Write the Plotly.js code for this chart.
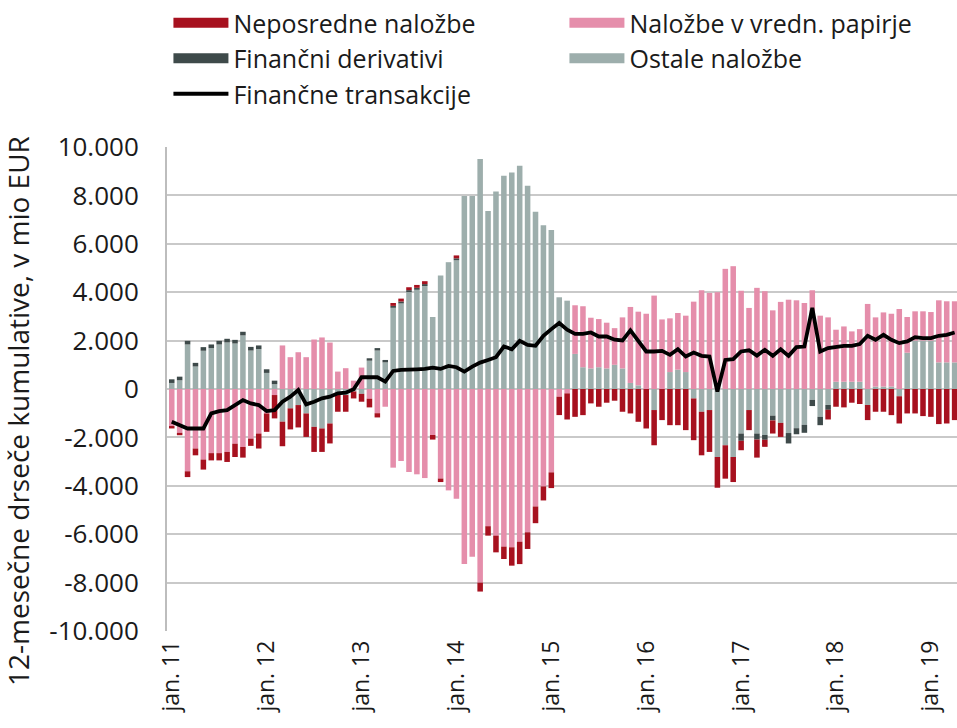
<!DOCTYPE html>
<html>
<head>
<meta charset="utf-8">
<script src="https://cdn.plot.ly/plotly-3.0.1.min.js"></script>
<style>
  html, body { margin: 0; padding: 0; background: #ffffff; }
  #chart { width: 957px; height: 728px; }
</style>
</head>
<body>
<div id="chart"></div>
<script>
// Months: jan. 2011 .. apr. 2019
var months = [
  "2011-01","2011-02","2011-03","2011-04","2011-05","2011-06","2011-07","2011-08","2011-09","2011-10","2011-11","2011-12",
  "2012-01","2012-02","2012-03","2012-04","2012-05","2012-06","2012-07","2012-08","2012-09","2012-10","2012-11","2012-12",
  "2013-01","2013-02","2013-03","2013-04","2013-05","2013-06","2013-07","2013-08","2013-09","2013-10","2013-11","2013-12",
  "2014-01","2014-02","2014-03","2014-04","2014-05","2014-06","2014-07","2014-08","2014-09","2014-10","2014-11","2014-12",
  "2015-01","2015-02","2015-03","2015-04","2015-05","2015-06","2015-07","2015-08","2015-09","2015-10","2015-11","2015-12",
  "2016-01","2016-02","2016-03","2016-04","2016-05","2016-06","2016-07","2016-08","2016-09","2016-10","2016-11","2016-12",
  "2017-01","2017-02","2017-03","2017-04","2017-05","2017-06","2017-07","2017-08","2017-09","2017-10","2017-11","2017-12",
  "2018-01","2018-02","2018-03","2018-04","2018-05","2018-06","2018-07","2018-08","2018-09","2018-10","2018-11","2018-12",
  "2019-01","2019-02","2019-03","2019-04"
];

// Tick labels (x)
var xTickVals = ["2011-01","2012-01","2013-01","2014-01","2015-01","2016-01","2017-01","2018-01","2019-01"];
var xTickText = ["jan. 11","jan. 12","jan. 13","jan. 14","jan. 15","jan. 16","jan. 17","jan. 18","jan. 19"];

// Tick labels (y)
var yTickVals = [10000, 8000, 6000, 4000, 2000, 0, -2000, -4000, -6000, -8000, -10000];
var yTickText = ["10.000","8.000","6.000","4.000","2.000","0","-2.000","-4.000","-6.000","-8.000","-10.000"];

// Neposredne naložbe (mio EUR)
var neposredne = [
  -100,-100,-240,-280,-415,-300,-300,-415,-550,-440,-300,-620,
  -760,-965,-1015,-870,-925,-970,-1035,-970,-825,-760,-690,-290,
  -325,-360,-175,0,120,120,120,120,120,-190,-145,0,
  120,0,0,-370,-390,-690,-510,-760,-925,-690,-690,-580,
  -650,-760,-1080,-1150,-1080,-595,-733,-567,-484,-940,-1010,-1355,
  -1632,-1455,-1285,-1495,-1495,-1700,-1725,-1800,-1730,-1270,-1380,-1035,
  -390,-830,-745,-290,-540,-580,0,0,0,0,0,-400,
  -733,-760,-567,-620,-625,-940,-940,-1080,-1125,-1010,-1010,-1120,
  -1150,-1450,-1425,-1285
];

// Naložbe v vrednostne papirje
var vrednPapirji = [
  -1530,-1810,-3400,-2460,-2915,-2650,-2650,-2600,-2260,-2395,-2050,-1840,
  -1010,-250,1800,1315,1520,1315,2045,2130,1920,720,860,345,
  885,-400,-1000,-733,-3250,-2975,-3430,-3525,-3680,-1900,-3700,-4190,
  -4535,-7235,-6930,-8000,-5670,-6060,-6515,-6540,-6310,-5920,-4855,-4025,
  -3445,-318,-180,2010,2520,2095,1990,1890,1515,2110,3140,3045,
  3110,3860,2875,2220,2340,2330,3610,4080,3970,4000,4965,5075,
  4060,3350,4180,4040,3250,3600,3690,3665,3555,4080,3030,2960,
  2150,2285,2080,2175,3515,2860,3065,3010,3305,1475,1210,1210,
  1180,2565,2525,2525
];

// Finančni derivativi
var derivativi = [
  150,150,150,150,150,150,150,150,150,150,150,150,
  150,145,0,0,0,0,0,0,0,0,0,0,
  0,100,100,100,80,80,80,80,80,0,0,0,
  80,0,0,0,0,0,0,0,0,0,0,0,
  0,0,0,0,0,0,0,0,0,0,0,0,
  0,0,0,0,0,0,0,0,0,0,0,0,
  -300,0,-250,-200,-200,0,-430,-250,-330,-255,-345,-200,
  0,0,0,0,0,0,0,0,0,0,0,0,
  0,0,0,0
];

// Ostale naložbe
var ostale = [
  250,360,1840,930,1580,1690,1840,1925,1880,2215,1590,1650,
  665,200,-1350,-800,-664,-1010,-1565,-1630,-1425,-180,-250,-100,
  -200,1170,1590,1100,3355,3535,4005,4100,4255,2975,4690,5240,
  5320,7980,7980,9500,7360,8160,8810,8950,9225,8395,7320,6765,
  6570,3790,3650,1450,900,850,900,850,1000,850,250,150,
  0,-870,0,700,800,700,-390,-940,-870,-2810,-2325,-2810,
  -1840,-870,-1840,-1900,-1100,-1400,-1820,-1620,-1480,-450,-1150,-660,
  300,300,300,300,-660,100,100,100,-300,1500,2000,2000,
  2000,1100,1100,1100
];

// Finančne transakcije (skupaj)
var transakcije = [
  -1355,-1490,-1632,-1632,-1632,-1010,-913,-871,-664,-456,-595,-664,
  -913,-871,-525,-318,-41,-636,-525,-387,-318,-180,-152,-14,
  485,490,485,305,745,790,790,815,830,885,830,955,
  900,720,925,1090,1200,1315,1755,1645,1990,1825,1785,2200,
  2475,2725,2450,2280,2280,2335,2170,2170,2035,2005,2420,1965,
  1550,1550,1575,1410,1645,1340,1505,1370,1340,-110,1200,1230,
  1550,1600,1380,1620,1370,1645,1370,1730,1755,3350,1550,1690,
  1730,1785,1785,1855,2200,2035,2240,2035,1895,1965,2145,2105,
  2105,2200,2240,2335
];

var colRed = "#A7111F", colPink = "#E58EAB", colDark = "#3E4A4A", colGray = "#9DAEAC";
var FONT = "'Open Sans', 'DejaVu Sans', sans-serif";
var TXT = "#1a1a1a";

function barTrace(name, y, color) {
  return { type: "bar", name: name, x: months, y: y, marker: { color: color, line: { width: 0 } },
           showlegend: false, hoverinfo: "x+y+name" };
}
function legendTrace(name, color, rank) {
  return { type: "scatter", mode: "lines", name: name, x: [null], y: [null],
           line: { color: color, width: 16 }, legendrank: rank, hoverinfo: "skip" };
}

var data = [
  barTrace("Ostale naložbe", ostale, colGray),
  barTrace("Naložbe v vredn. papirje", vrednPapirji, colPink),
  barTrace("Finančni derivativi", derivativi, colDark),
  barTrace("Neposredne naložbe", neposredne, colRed),
  { type: "scatter", mode: "lines", name: "Finančne transakcije", x: months, y: transakcije,
    line: { color: "#000000", width: 3.8 }, legendrank: 5 },
  legendTrace("Neposredne naložbe", colRed, 1),
  legendTrace("Naložbe v vredn. papirje", colPink, 2),
  legendTrace("Finančni derivativi", colDark, 3),
  legendTrace("Ostale naložbe", colGray, 4)
];

var layout = {
  width: 957, height: 728,
  margin: { l: 167, r: 0, t: 147, b: 97, pad: 0 },
  paper_bgcolor: "#ffffff", plot_bgcolor: "#ffffff",
  font: { family: FONT, size: 25, color: TXT },
  barmode: "relative", bargap: 0.3,
  showlegend: true,
  legend: {
    orientation: "h", xref: "container", yref: "container",
    x: 0.176, y: 1, xanchor: "left", yanchor: "top",
    entrywidth: 326, itemwidth: 55, traceorder: "normal",
    font: { family: FONT, size: 25, color: TXT },
    bgcolor: "rgba(0,0,0,0)"
  },
  xaxis: {
    type: "category", range: [-0.6, 99.3],
    tickmode: "array", tickvals: xTickVals, ticktext: xTickText,
    tickangle: -90, showgrid: false, zeroline: false,
    showline: false, ticks: "", ticklabelstandoff: 4,
    tickfont: { family: FONT, size: 23, color: TXT }
  },
  yaxis: {
    range: [-10000, 10000], tickmode: "array", tickvals: yTickVals, ticktext: yTickText,
    showgrid: true, gridcolor: "#C9C9C9", gridwidth: 2,
    zeroline: false, showline: true, linecolor: "#BDBDBD", linewidth: 2,
    ticks: "", ticklabelstandoff: 21,
    tickfont: { family: FONT, size: 26, color: TXT }
  },
  annotations: [{
    text: "12-mesečne drseče kumulative, v mio EUR",
    xref: "paper", yref: "paper", x: -0.1886, y: 0.4545,
    xanchor: "center", yanchor: "middle", textangle: -90, showarrow: false,
    font: { family: FONT, size: 28, color: TXT }
  }]
};

Plotly.newPlot("chart", data, layout, { displayModeBar: false, staticPlot: true });
</script>
</body>
</html>
